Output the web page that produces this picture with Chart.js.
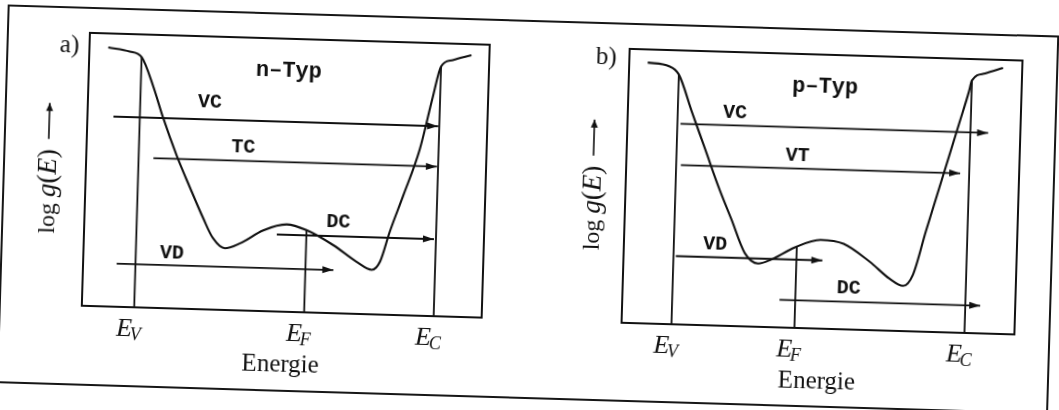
<!DOCTYPE html>
<html>
<head>
<meta charset="utf-8">
<script src="https://cdn.jsdelivr.net/npm/chart.js@4.4.1/dist/chart.umd.min.js"></script>
<style>
  html, body { margin: 0; padding: 0; background: #fff; }
  #fig { position: relative; width: 1059px; height: 410px; overflow: hidden; }
  #sheet { position: absolute; left: 0; top: 0; width: 1059px; height: 410px; transform: rotate(1.7deg); transform-origin: 530px 205px; }
  #frame { position: absolute; left: 2px; top: 20px; width: 1048px; height: 375px; border: 2px solid #161616; }
  canvas { position: absolute; top: 0; }
  #ca { left: 0; }
  #cb { left: 530px; }
</style>
</head>
<body>
<div id="fig">
  <div id="sheet">
    <div id="frame"></div>
    <canvas id="ca" width="530" height="410"></canvas>
    <canvas id="cb" width="529" height="410"></canvas>
  </div>
</div>
<script>
// energy axis 0..100 across the box, log g(E) 0..100 bottom to top
const curveAX = [4.7, 10.1, 13.1, 16.2, 18.9, 22.6, 26.1, 29.7, 32.3, 35.3, 39.1, 44.8, 50.6, 55.6, 62.4, 68.3, 72.2, 74.2, 76.4, 79.5, 83.3, 86.2, 88.0, 90.9, 95.5];
const curveAY = [94.9, 93.6, 91.7, 81.2, 69.8, 56.0, 44.6, 33.3, 26.1, 22.6, 24.6, 29.6, 32.0, 30.1, 24.9, 19.1, 16.3, 19.4, 30.4, 43.8, 61.0, 80.5, 91.5, 94.0, 96.0];
const curveBX = [4.7, 10.2, 12.7, 16.4, 20.0, 23.6, 27.2, 30.8, 34.3, 37.6, 43.4, 50.0, 55.9, 62.7, 67.8, 71.3, 73.7, 76.7, 80.5, 84.3, 86.6, 87.3, 90.6, 95.1];
const curveBY = [95.2, 94.1, 91.2, 77.3, 64.1, 50.8, 38.8, 26.8, 23.1, 24.7, 29.3, 32.4, 31.2, 24.9, 19.0, 16.5, 20.5, 36.6, 56.3, 76.0, 88.0, 92.2, 94.9, 97.1];

const levelSubs = ['V', 'F', 'C'];
const levelsA = [13.1, 55.6, 88.0];
const levelTopsA = [91.7, 30.1, 91.5];
const levelsB = [12.7, 44.0, 87.3];
const levelTopsB = [91.2, 29.6, 92.2];

const arrowNamesA = ['VC', 'TC', 'DC', 'VD'];
const arrowFromA = [6.5, 16.8, 48.2, 8.4];
const arrowToA = [87.7, 87.7, 87.5, 62.6];
const arrowYA = [69.6, 54.8, 28.2, 15.8];
const labelXA = [30.5, 39.2, 63.5, 22.1];
const labelYA = [75.7, 59.7, 33.2, 20.2];

const arrowNamesB = ['VC', 'VT', 'VD', 'DC'];
const arrowFromB = [13.5, 13.9, 13.3, 40.0];
const arrowToB = [91.8, 85.0, 50.6, 91.1];
const arrowYB = [73.2, 58.2, 24.9, 10.1];
const labelXB = [27.3, 43.5, 23.2, 57.5];
const labelYB = [77.9, 62.9, 29.5, 15.1];

const INK = '#111';
const SERIF = '"Liberation Serif", "DejaVu Serif", serif';
const MONO = '"Liberation Mono", "DejaVu Sans Mono", monospace';

function drawSubLabel(ctx, cx, cy, main, sub) {
    const big = 'italic 26px ' + SERIF, small = 'italic 18px ' + SERIF;
    ctx.font = big;
    const w1 = ctx.measureText(main).width;
    ctx.font = small;
    const w2 = ctx.measureText(sub).width;
    const x0 = cx - (w1 + w2) / 2;
    ctx.textAlign = 'left';
    ctx.textBaseline = 'alphabetic';
    ctx.font = big;
    ctx.fillText(main, x0, cy + 8);
    ctx.font = small;
    ctx.fillText(sub, x0 + w1 - 2, cy + 12);
}

function drawYTitle(ctx, cx, cy) {
    ctx.save();
    ctx.translate(cx, cy);
    ctx.rotate(-Math.PI / 2);
    const parts = [
        ['log', '24px ' + SERIF],
        [' ', '24px ' + SERIF],
        ['g', 'italic 27px ' + SERIF],
        ['(', '27px ' + SERIF],
        ['E', 'italic 27px ' + SERIF],
        [')', '27px ' + SERIF]
    ];
    let total = 0;
    parts.forEach(p => { ctx.font = p[1]; total += ctx.measureText(p[0]).width; });
    const gap = 10, arrowLen = 36;
    let x = -(total + gap + arrowLen) / 2;
    ctx.textAlign = 'left';
    ctx.textBaseline = 'alphabetic';
    parts.forEach(p => {
        ctx.font = p[1];
        ctx.fillText(p[0], x, 8);
        x += ctx.measureText(p[0]).width;
    });
    x += gap;
    ctx.lineWidth = 1.6;
    ctx.beginPath();
    ctx.moveTo(x, 0);
    ctx.lineTo(x + arrowLen, 0);
    ctx.stroke();
    ctx.beginPath();
    ctx.moveTo(x + arrowLen, 0);
    ctx.lineTo(x + arrowLen - 8, -3.5);
    ctx.lineTo(x + arrowLen - 8, 3.5);
    ctx.closePath();
    ctx.fill();
    ctx.restore();
}

const decorPlugin = {
    id: 'decor',
    afterDatasetsDraw(chart, args, opts) {
        const ctx = chart.ctx;
        const area = chart.chartArea;
        const xs = chart.scales.x, ys = chart.scales.y;
        ctx.save();
        ctx.strokeStyle = INK;
        ctx.fillStyle = INK;

        // plot box
        ctx.lineWidth = 2;
        ctx.strokeRect(area.left, area.top, area.right - area.left, area.bottom - area.top);

        // arrow heads
        chart.data.datasets.forEach((ds, i) => {
            if (!ds.arrow) return;
            const pts = chart.getDatasetMeta(i).data;
            const a = pts[0], b = pts[pts.length - 1];
            const ang = Math.atan2(b.y - a.y, b.x - a.x);
            ctx.save();
            ctx.translate(b.x, b.y);
            ctx.rotate(ang);
            ctx.beginPath();
            ctx.moveTo(0, 0);
            ctx.lineTo(-11, -3.5);
            ctx.lineTo(-11, 3.5);
            ctx.closePath();
            ctx.fill();
            ctx.restore();
        });

        // transition labels
        ctx.font = 'bold 20px ' + MONO;
        ctx.textAlign = 'center';
        ctx.textBaseline = 'middle';
        opts.names.forEach((name, i) => {
            ctx.fillText(name, xs.getPixelForValue(opts.lx[i]), ys.getPixelForValue(opts.ly[i]));
        });
        ctx.font = 'bold 22px ' + MONO;
        ctx.fillText(opts.type, xs.getPixelForValue(50), ys.getPixelForValue(88));

        // panel tag
        ctx.font = '25px ' + SERIF;
        ctx.textAlign = 'center';
        ctx.fillText(opts.tag, area.left + opts.tagDx, area.top + opts.tagDy);

        // level labels under the box
        opts.levels.forEach((v, i) => {
            drawSubLabel(ctx, xs.getPixelForValue(v) - 4, area.bottom + 21, 'E', levelSubs[i]);
        });

        // axis titles
        ctx.font = '25px ' + SERIF;
        ctx.textAlign = 'center';
        ctx.textBaseline = 'middle';
        ctx.fillText('Energie', (area.left + area.right) / 2, area.bottom + 53);
        drawYTitle(ctx, area.left - opts.yTitleDx, (area.top + area.bottom) / 2);
        ctx.restore();
    }
};

function makePanel(id, curveX, curveY, levels, levelTops, names, from, to, ay, lx, ly, extra, padding) {
    const datasets = [];
    datasets.push({
        data: curveX.map((x, i) => ({ x: x, y: curveY[i] })),
        borderColor: INK,
        borderWidth: 2.1,
        cubicInterpolationMode: 'monotone'
    });
    levels.forEach((v, i) => {
        datasets.push({
            data: [{ x: v, y: levelTops[i] }, { x: v, y: 0 }],
            borderColor: INK,
            borderWidth: 1.8
        });
    });
    names.forEach((n, i) => {
        datasets.push({
            arrow: true,
            data: [{ x: from[i], y: ay[i] }, { x: to[i], y: ay[i] }],
            borderColor: INK,
            borderWidth: 1.8
        });
    });
    datasets.forEach(ds => {
        ds.showLine = true;
        ds.fill = false;
        ds.pointRadius = 0;
        ds.clip = 4;
    });

    return new Chart(document.getElementById(id), {
        type: 'scatter',
        data: { datasets: datasets },
        plugins: [decorPlugin],
        options: {
            responsive: false,
            animation: false,
            events: [],
            layout: { padding: padding },
            scales: {
                x: { type: 'linear', min: 0, max: 100, display: false },
                y: { type: 'linear', min: 0, max: 100, display: false }
            },
            plugins: {
                legend: { display: false },
                tooltip: { enabled: false },
                decor: Object.assign({ names: names, lx: lx, ly: ly, levels: levels }, extra)
            }
        }
    });
}

makePanel('ca', curveAX, curveAY, levelsA, levelTopsA, arrowNamesA, arrowFromA, arrowToA, arrowYA, labelXA, labelYA,
    { type: 'n\u2013Typ', tag: 'a)', tagDx: -20, tagDy: 13, yTitleDx: 38 },
    { left: 85, top: 46, right: 45, bottom: 91 });

makePanel('cb', curveBX, curveBY, levelsB, levelTopsB, arrowNamesB, arrowFromB, arrowToB, arrowYB, labelXB, labelYB,
    { type: 'p\u2013Typ', tag: 'b)', tagDx: -23, tagDy: 9, yTitleDx: 33 },
    { left: 95, top: 46, right: 41, bottom: 90 });
</script>
</body>
</html>
